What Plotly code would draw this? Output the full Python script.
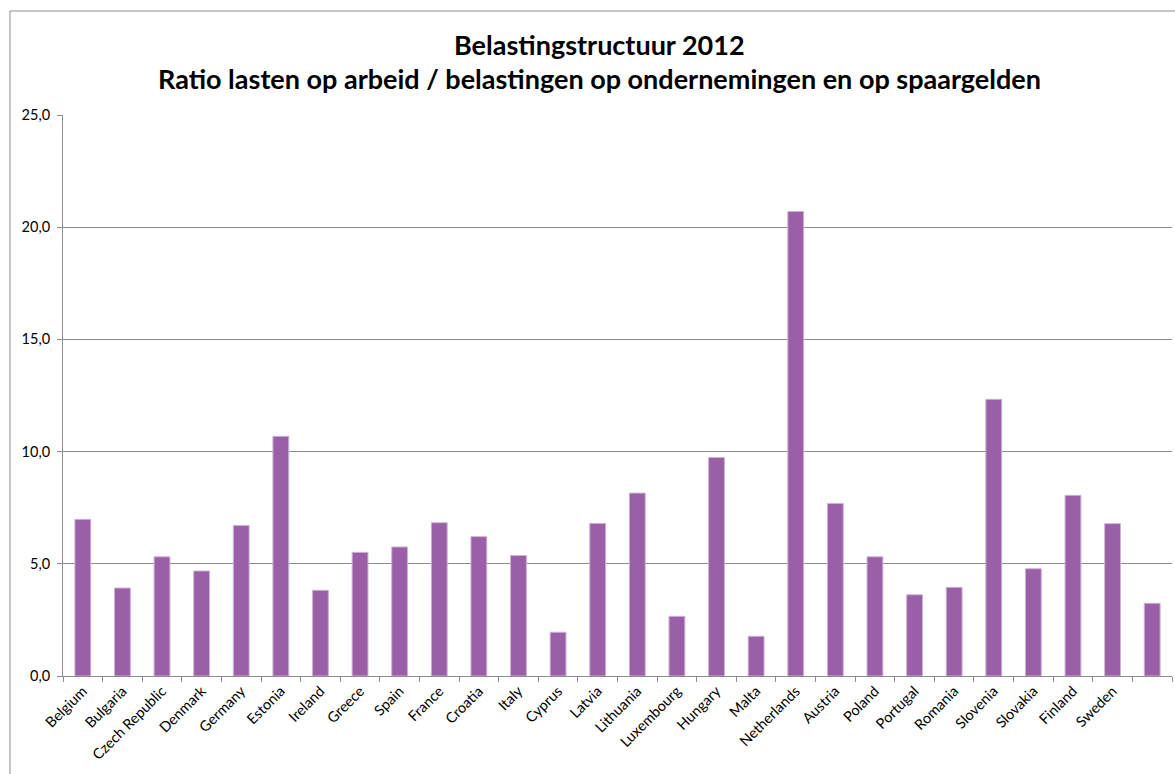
import plotly.graph_objects as go

# Landen (laatste categorie zonder label)
countries = [
    "Belgium", "Bulgaria", "Czech Republic", "Denmark", "Germany", "Estonia",
    "Ireland", "Greece", "Spain", "France", "Croatia", "Italy", "Cyprus",
    "Latvia", "Lithuania", "Luxembourg", "Hungary", "Malta", "Netherlands",
    "Austria", "Poland", "Portugal", "Romania", "Slovenia", "Slovakia",
    "Finland", "Sweden", " ",
]

# Ratio lasten op arbeid / belastingen op ondernemingen en spaargelden, 2012
ratio = [
    6.98, 3.92, 5.31, 4.68, 6.71, 10.68,
    3.82, 5.51, 5.75, 6.83, 6.21, 5.37, 1.95,
    6.80, 8.15, 2.66, 9.74, 1.77, 20.70,
    7.69, 5.31, 3.62, 3.95, 12.33, 4.78,
    8.05, 6.79, 3.24,
]

y_ticks = [0, 5, 10, 15, 20, 25]

title_line1 = "Belastingstructuur 2012"
title_line2 = "Ratio lasten op arbeid / belastingen op ondernemingen en op spaargelden"

FONT = "Lato"
GRID = "#8C8C8C"
BAR = "#9A5FA6"
TICK_SIZE = 14.5
TITLE_SIZE = 27

fig = go.Figure(
    go.Bar(
        x=countries,
        y=ratio,
        marker=dict(color=BAR, line=dict(color="#CDB3D4", width=1)),
        width=0.4,
        hoverinfo="x+y",
    )
)

fig.update_layout(
    width=1175,
    height=774,
    margin=dict(l=63, r=3, t=115, b=98),
    paper_bgcolor="white",
    plot_bgcolor="white",
    separators=", ",
    showlegend=False,
    font=dict(family=FONT, size=TICK_SIZE, color="#000000"),
    xaxis=dict(
        type="category",
        tickangle=-45,
        tickson="boundaries",
        ticks="outside",
        ticklen=5,
        tickcolor=GRID,
        showline=True,
        linecolor=GRID,
        linewidth=1,
        showgrid=False,
        tickfont=dict(family=FONT, size=TICK_SIZE, color="#000000"),
        range=[-0.5, 27.5],
    ),
    yaxis=dict(
        range=[0, 25],
        tickvals=y_ticks,
        tickformat=".1f",
        ticks="outside",
        ticklen=5,
        tickcolor=GRID,
        showline=True,
        linecolor=GRID,
        linewidth=1,
        showgrid=True,
        gridcolor=GRID,
        gridwidth=1,
        zeroline=False,
        tickfont=dict(family=FONT, size=TICK_SIZE, color="#000000"),
        ticklabelstandoff=4,
    ),
    annotations=[
        dict(
            text="<b>%s</b>" % title_line1,
            xref="paper", yref="paper",
            x=0.4842, y=1.1248,
            xanchor="center", yanchor="middle",
            showarrow=False,
            font=dict(family=FONT, size=TITLE_SIZE, color="#000000"),
        ),
        dict(
            text="<b>%s</b>" % title_line2,
            xref="paper", yref="paper",
            x=0.4842, y=1.0642,
            xanchor="center", yanchor="middle",
            showarrow=False,
            font=dict(family=FONT, size=TITLE_SIZE, color="#000000"),
        ),
    ],
    shapes=[
        # chart frame (left and top edges)
        dict(type="line", xref="paper", yref="paper",
             x0=-0.0478, x1=-0.0478, y0=-0.25, y1=1.1854,
             line=dict(color=GRID, width=1)),
        dict(type="line", xref="paper", yref="paper",
             x0=-0.0478, x1=1.05, y0=1.1854, y1=1.1854,
             line=dict(color=GRID, width=1)),
    ],
)

fig.write_html("out.html")
